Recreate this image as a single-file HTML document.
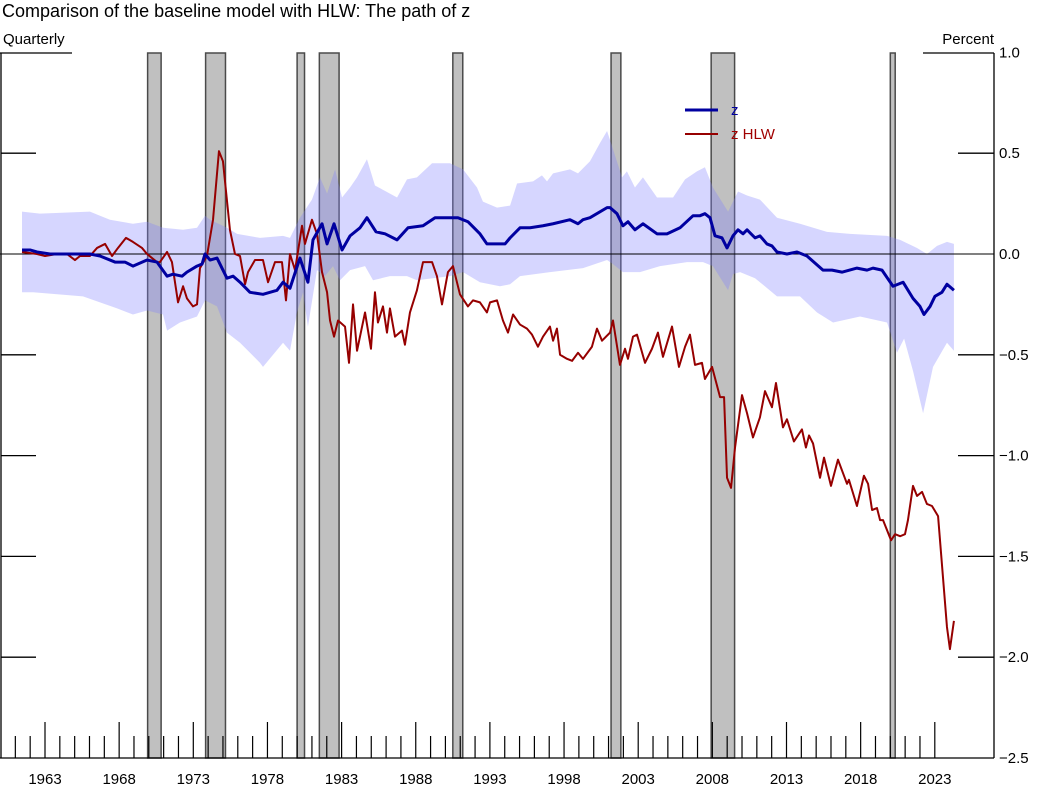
<!DOCTYPE html>
<html><head><meta charset="utf-8"><style>
body{margin:0;background:#fff}
svg{display:block;font-family:"Liberation Sans",Arial,sans-serif}
</style></head><body>
<svg id="c" width="1040" height="790">
<text x="2" y="17" font-size="18" fill="#000">Comparison of the baseline model with HLW: The path of z</text>
<text x="3" y="44" font-size="15">Quarterly</text>
<text x="994" y="44" font-size="15" text-anchor="end">Percent</text>
<g id="rec"></g>
<g id="band"></g>
<g id="axes"></g>
<g id="lines"></g>
<g>
<line x1="685" y1="110" x2="718" y2="110" stroke="#0000a0" stroke-width="3"/>
<text x="731" y="115" font-size="15" fill="#0000a0">z</text>
<line x1="685" y1="134" x2="718" y2="134" stroke="#960000" stroke-width="2"/>
<text x="731" y="139" font-size="15" fill="#a00000">z HLW</text>
</g>
</svg>
<script>
const recStart=[1969.92,1973.83,1980.0,1981.5,1990.5,2001.17,2007.92,2020.0];
const recEnd=[1970.83,1975.17,1980.5,1982.83,1991.17,2001.83,2009.5,2020.33];
const yTicks=[1.0,0.5,0.0,-0.5,-1.0,-1.5,-2.0,-2.5];
const yTickLabels=["1.0","0.5","0.0","\u22120.5","\u22121.0","\u22121.5","\u22122.0","\u22122.5"];
const zYears=[1961.45,1961.99,1962.46,1963.34,1965.36,1966.03,1966.71,1967.72,1968.39,1968.93,1969.88,1970.55,1971.23,1971.63,1972.24,1972.57,1973.25,1973.59,1973.79,1974.13,1974.6,1975.27,1975.68,1976.15,1976.82,1977.7,1978.64,1979.05,1979.52,1980.19,1980.73,1981.07,1981.68,1982.02,1982.49,1983.03,1983.57,1984.24,1984.71,1985.32,1985.93,1986.74,1987.48,1988.49,1989.3,1990.31,1990.85,1991.52,1992.33,1992.8,1993.34,1994.02,1994.36,1995.03,1995.71,1996.58,1997.26,1998.4,1998.94,1999.28,1999.75,2000.9,2001.1,2001.57,2001.97,2002.31,2002.78,2003.32,2004.27,2004.94,2005.82,2006.7,2007.17,2007.5,2007.84,2008.18,2008.65,2008.99,2009.39,2009.73,2010.07,2010.34,2010.88,2011.21,2011.68,2012.02,2012.36,2013.03,2013.71,2014.38,2015.46,2016.07,2016.74,2017.75,2018.43,2018.83,2019.44,2020.18,2020.86,2021.53,2022.0,2022.27,2022.68,2023.01,2023.48,2023.82,2024.29];
const zValues=[0.02,0.02,0.01,0,0,0,-0.01,-0.04,-0.04,-0.06,-0.03,-0.04,-0.11,-0.1,-0.11,-0.09,-0.06,-0.05,0,-0.03,-0.02,-0.12,-0.11,-0.14,-0.19,-0.2,-0.18,-0.14,-0.17,-0.02,-0.14,0.07,0.15,0.05,0.15,0.02,0.09,0.13,0.18,0.11,0.1,0.07,0.13,0.14,0.18,0.18,0.18,0.16,0.1,0.05,0.05,0.05,0.08,0.13,0.13,0.14,0.15,0.17,0.15,0.17,0.18,0.23,0.23,0.2,0.14,0.16,0.12,0.15,0.1,0.1,0.13,0.19,0.19,0.2,0.18,0.09,0.08,0.03,0.09,0.12,0.1,0.12,0.08,0.09,0.05,0.04,0.01,0,0.01,-0.01,-0.08,-0.08,-0.09,-0.07,-0.08,-0.07,-0.08,-0.16,-0.14,-0.22,-0.26,-0.3,-0.26,-0.21,-0.19,-0.15,-0.18];
const hYears=[1961.45,1962.46,1963.0,1963.81,1964.48,1965.02,1965.36,1966.03,1966.51,1967.05,1967.52,1967.92,1968.46,1968.93,1969.54,1969.88,1970.55,1970.75,1971.23,1971.56,1971.97,1972.31,1972.57,1972.98,1973.25,1973.45,1973.92,1974.33,1974.73,1975.0,1975.47,1975.81,1976.15,1976.49,1976.69,1977.16,1977.7,1978.04,1978.51,1978.98,1979.25,1979.52,1979.86,1980.33,1980.53,1981.0,1981.34,1981.68,1982.02,1982.22,1982.49,1982.76,1983.23,1983.5,1983.77,1984.04,1984.58,1984.98,1985.25,1985.45,1985.79,1986.06,1986.26,1986.6,1987.07,1987.27,1987.61,1988.08,1988.49,1989.1,1989.43,1989.77,1990.17,1990.51,1990.98,1991.52,1991.86,1992.33,1992.8,1993.01,1993.48,1993.88,1994.22,1994.56,1995.03,1995.5,1995.84,1996.24,1996.58,1997.05,1997.26,1997.52,1997.73,1998.2,1998.54,1998.94,1999.28,1999.88,2000.22,2000.56,2001.1,2001.3,2001.77,2002.11,2002.31,2002.65,2002.92,2003.46,2003.93,2004.33,2004.67,2005.28,2005.75,2006.16,2006.49,2006.83,2007.3,2007.5,2007.98,2008.52,2008.79,2008.99,2009.26,2009.53,2010.0,2010.34,2010.74,2011.21,2011.55,2012.02,2012.29,2012.76,2013.03,2013.5,2014.04,2014.31,2014.52,2014.79,2015.26,2015.53,2016.0,2016.47,2017.08,2017.21,2017.75,2018.22,2018.5,2018.77,2019.1,2019.31,2019.51,2020.05,2020.32,2020.66,2020.99,2021.19,2021.53,2021.8,2022.14,2022.47,2022.81,2023.22,2023.82,2024.02,2024.29];
const hValues=[0.01,0,-0.01,0,0,-0.03,-0.01,-0.01,0.03,0.05,-0.01,0.03,0.08,0.06,0.03,0,-0.04,-0.04,0.01,-0.04,-0.24,-0.16,-0.22,-0.26,-0.25,-0.07,-0.01,0.17,0.51,0.46,0.12,0,-0.01,-0.15,-0.09,-0.03,-0.03,-0.14,-0.04,-0.04,-0.23,0,-0.08,0.14,0.05,0.17,0.1,-0.09,-0.19,-0.33,-0.41,-0.33,-0.36,-0.54,-0.25,-0.48,-0.29,-0.47,-0.19,-0.34,-0.26,-0.39,-0.27,-0.41,-0.38,-0.45,-0.29,-0.18,-0.04,-0.04,-0.11,-0.25,-0.09,-0.06,-0.2,-0.26,-0.23,-0.24,-0.29,-0.24,-0.23,-0.33,-0.39,-0.3,-0.35,-0.37,-0.4,-0.46,-0.41,-0.36,-0.43,-0.37,-0.5,-0.52,-0.53,-0.49,-0.52,-0.46,-0.37,-0.43,-0.39,-0.33,-0.55,-0.47,-0.52,-0.41,-0.4,-0.54,-0.47,-0.39,-0.51,-0.36,-0.56,-0.46,-0.4,-0.55,-0.54,-0.62,-0.56,-0.71,-0.71,-1.11,-1.16,-0.96,-0.7,-0.79,-0.91,-0.81,-0.68,-0.76,-0.64,-0.86,-0.82,-0.93,-0.87,-0.96,-0.9,-0.94,-1.11,-1.01,-1.15,-1.02,-1.14,-1.12,-1.25,-1.1,-1.14,-1.27,-1.26,-1.32,-1.32,-1.42,-1.39,-1.4,-1.39,-1.32,-1.15,-1.2,-1.18,-1.24,-1.25,-1.3,-1.85,-1.96,-1.82];
const upYears=[1961.45,1962.66,1966.03,1966.71,1967.38,1968.93,1969.88,1970.96,1972.31,1973.25,1973.79,1974.13,1975.27,1975.95,1977.5,1979.05,1979.52,1980.19,1981.0,1981.54,1982.02,1982.56,1983.03,1983.57,1984.04,1984.71,1985.25,1986.74,1987.41,1988.08,1989.1,1990.31,1991.19,1992.13,1992.53,1993.48,1994.36,1994.83,1995.91,1996.51,1996.85,1997.26,1998.4,1998.94,1999.75,2000.42,2000.9,2001.3,2001.91,2002.24,2002.78,2003.32,2004.27,2005.35,2006.16,2006.96,2007.5,2008.04,2009.06,2009.73,2010.34,2011.21,2012.36,2013.91,2015.73,2017.28,2019.78,2020.66,2021.8,2022.47,2023.15,2023.82,2024.29];
const upValues=[0.21,0.2,0.21,0.19,0.17,0.15,0.16,0.13,0.12,0.13,0.19,0.17,0.13,0.1,0.08,0.09,0.08,0.18,0.27,0.38,0.3,0.42,0.28,0.33,0.38,0.47,0.34,0.28,0.37,0.38,0.45,0.45,0.42,0.33,0.26,0.23,0.24,0.35,0.36,0.39,0.36,0.4,0.42,0.4,0.46,0.55,0.61,0.52,0.38,0.41,0.33,0.38,0.28,0.28,0.37,0.41,0.43,0.33,0.21,0.31,0.29,0.27,0.18,0.15,0.11,0.1,0.09,0.07,0.03,0,0.04,0.06,0.05];
const loYears=[1961.45,1962.19,1965.56,1966.71,1967.86,1968.93,1969.88,1970.96,1971.23,1972.1,1973.25,1973.79,1974.6,1975.27,1976.15,1977.5,1977.7,1979.05,1979.52,1979.99,1980.4,1980.73,1981.34,1981.88,1982.42,1982.89,1983.57,1984.58,1985.12,1986.26,1987.41,1988.08,1990.31,1991.19,1992.33,1993.68,1994.36,1995.03,1997.05,1999.28,2000.9,2001.3,2001.97,2003.12,2004.47,2006.29,2007.37,2008.04,2009.06,2009.39,2009.87,2010.88,2012.36,2013.91,2015.06,2016.14,2017.96,2019.78,2020.45,2020.93,2021.53,2022.21,2022.88,2023.82,2024.29];
const loValues=[-0.19,-0.19,-0.21,-0.24,-0.27,-0.3,-0.28,-0.3,-0.38,-0.34,-0.31,-0.23,-0.26,-0.39,-0.44,-0.54,-0.56,-0.44,-0.48,-0.29,-0.19,-0.36,-0.08,-0.11,-0.06,-0.13,-0.08,-0.06,-0.13,-0.11,-0.11,-0.13,-0.11,-0.09,-0.14,-0.16,-0.15,-0.11,-0.09,-0.07,-0.03,-0.05,-0.09,-0.09,-0.06,-0.04,-0.04,-0.06,-0.18,-0.1,-0.09,-0.12,-0.21,-0.21,-0.29,-0.34,-0.31,-0.34,-0.49,-0.42,-0.58,-0.79,-0.56,-0.44,-0.48];
const xTickFirst=1961, xTickLast=2023;
const xLabelYears=[1963,1968,1973,1978,1983,1988,1993,1998,2003,2008,2013,2018,2023];

const NS='http://www.w3.org/2000/svg';
const X=y=>45+(y-1963)*14.83;
const Y=v=>254-v*201.6;
function mk(tag,attrs,parent){const e=document.createElementNS(NS,tag);for(const k in attrs)e.setAttribute(k,attrs[k]);parent.appendChild(e);return e;}
const gRec=document.getElementById('rec'),gBand=document.getElementById('band'),gAxes=document.getElementById('axes'),gLines=document.getElementById('lines');
const plotTop=53,plotBot=758;
recStart.forEach((s,i)=>{
  const r=mk('rect',{x:X(s),y:plotTop,width:X(recEnd[i])-X(s),height:plotBot-plotTop,fill:'#c0c0c0',stroke:'#4a4a4a','stroke-width':1.5},gRec);
  
  
});
let pts=upYears.map((y,i)=>X(y)+','+Y(upValues[i]));
for(let i=loYears.length-1;i>=0;i--)pts.push(X(loYears[i])+','+Y(loValues[i]));
const bp=mk('polygon',{points:pts.join(' '),fill:'#8080ff','fill-opacity':0.32},gBand);


mk('line',{x1:1,y1:plotTop,x2:1,y2:plotBot,stroke:'#000','stroke-width':1.3},gAxes);
mk('line',{x1:994,y1:plotTop,x2:994,y2:plotBot,stroke:'#000','stroke-width':1.3},gAxes);
mk('line',{x1:0,y1:plotBot,x2:994,y2:plotBot,stroke:'#000','stroke-width':1.3},gAxes);
mk('line',{x1:0,y1:plotTop,x2:72,y2:plotTop,stroke:'#000','stroke-width':1.3},gAxes);
mk('line',{x1:923,y1:plotTop,x2:994,y2:plotTop,stroke:'#000','stroke-width':1.3},gAxes);
mk('line',{x1:0,y1:Y(0),x2:994,y2:Y(0),stroke:'#000','stroke-width':1},gAxes);
yTicks.forEach((v,i)=>{
  if(v<1&&v>-2.5&&v!==0){
    mk('line',{x1:1,y1:Y(v),x2:36,y2:Y(v),stroke:'#000','stroke-width':1.3},gAxes);
    mk('line',{x1:958,y1:Y(v),x2:994,y2:Y(v),stroke:'#000','stroke-width':1.3},gAxes);
  }
  const t=mk('text',{x:999,y:Y(v)+5,'font-size':15},gAxes);
  t.textContent=yTickLabels[i];
  
  
});
for(let yr=xTickFirst;yr<=xTickLast;yr++){
  const major=(yr-1963)%5===0;
  mk('line',{x1:X(yr),y1:major?722:736,x2:X(yr),y2:plotBot,stroke:'#000','stroke-width':1.2},gAxes);
}
xLabelYears.forEach(yr=>{
  const t=mk('text',{x:X(yr),y:784,'font-size':15,'text-anchor':'middle'},gAxes);
  t.textContent=yr;
  
  
});
const hl=mk('polyline',{points:hYears.map((y,i)=>X(y)+','+Y(hValues[i])).join(' '),fill:'none',stroke:'#960000','stroke-width':2,'stroke-linejoin':'round'},gLines);


const zl=mk('polyline',{points:zYears.map((y,i)=>X(y)+','+Y(zValues[i])).join(' '),fill:'none',stroke:'#0000a0','stroke-width':3,'stroke-linejoin':'round'},gLines);


</script>
</body></html>
